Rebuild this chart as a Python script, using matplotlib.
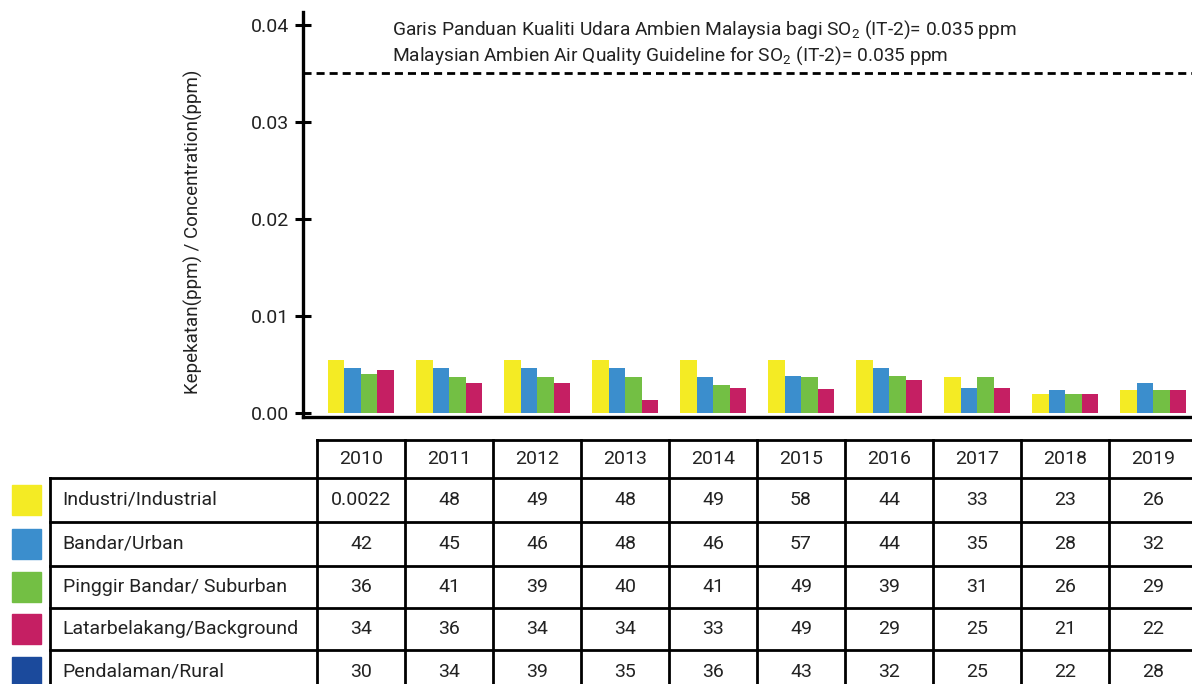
import matplotlib
matplotlib.use("Agg")
import matplotlib.pyplot as plt
from matplotlib.patches import Rectangle
import numpy as np

plt.rcParams['font.family'] = ['Roboto', 'DejaVu Sans']
plt.rcParams['mathtext.default'] = 'regular'

years = ['2010', '2011', '2012', '2013', '2014', '2015', '2016', '2017', '2018', '2019']

# bar heights (ppm)
industrial = [0.0055, 0.0055, 0.0055, 0.0055, 0.0055, 0.0055, 0.0055, 0.0037, 0.0020, 0.0024]
urban = [0.0046, 0.0046, 0.0046, 0.0046, 0.0037, 0.0038, 0.0046, 0.0026, 0.0024, 0.0031]
suburban = [0.0040, 0.0037, 0.0037, 0.0037, 0.0029, 0.0037, 0.0038, 0.0037, 0.0020, 0.0024]
background = [0.0044, 0.0031, 0.0031, 0.0013, 0.0026, 0.0025, 0.0034, 0.0026, 0.0020, 0.0024]

# table values as printed
industrial_tab = ['0.0022', '48', '49', '48', '49', '58', '44', '33', '23', '26']
urban_tab = ['42', '45', '46', '48', '46', '57', '44', '35', '28', '32']
suburban_tab = ['36', '41', '39', '40', '41', '49', '39', '31', '26', '29']
background_tab = ['34', '36', '34', '34', '33', '49', '29', '25', '21', '22']
rural_tab = ['30', '34', '39', '35', '36', '43', '32', '25', '22', '28']

row_labels = ['Industri/Industrial', 'Bandar/Urban', 'Pinggir Bandar/ Suburban',
              'Latarbelakang/Background', 'Pendalaman/Rural']
colors = ['#F4EB24', '#3B8ECD', '#73BF44', '#C51F63', '#1B4A9C']

guideline = 0.035

fig = plt.figure(figsize=(11.92, 6.84), dpi=100)
ax = fig.add_axes([0.2542, 0.3904, 0.7458, 0.5921])

x = np.arange(len(years))
w = 0.1875
series = [industrial, urban, suburban, background]
for k, vals in enumerate(series):
    ax.bar(x + (k - 1.5) * w, vals, width=w, color=colors[k], linewidth=0)

ax.axhline(guideline, color='black', lw=2, ls=(0, (2.9, 1.8)))
ax.text(0.35, 0.0395, 'Garis Panduan Kualiti Udara Ambien Malaysia bagi SO$_2$ (IT-2)= 0.035 ppm',
        fontsize=13.8, va='center', ha='left', color='#222222')
ax.text(0.35, 0.0368, 'Malaysian Ambien Air Quality Guideline for SO$_2$ (IT-2)= 0.035 ppm',
        fontsize=13.8, va='center', ha='left', color='#222222')

ax.set_xlim(-0.659, 9.443)
ax.set_ylim(-0.0004, 0.0413)
ax.set_yticks([0, 0.01, 0.02, 0.03, 0.04])
ax.set_yticklabels(['0.00', '0.01', '0.02', '0.03', '0.04'])
ax.set_xticks([])
ax.tick_params(axis='y', direction='inout', length=11.5, width=2.2, labelsize=14, pad=4,
               labelcolor='#222222')
for s in ['top', 'right']:
    ax.spines[s].set_visible(False)
for s in ['left', 'bottom']:
    ax.spines[s].set_linewidth(2.4)
ax.set_ylabel('Kepekatan(ppm) / Concentration(ppm)', fontsize=13.5, color='#222222')
ax.yaxis.set_label_coords(-0.113, 0.457)

# data table below, sharing the bar x positions
tab = fig.add_axes([0.2542, 0.0, 0.7458, 244 / 684])
tab.set_xlim(ax.get_xlim())
tab.set_ylim(684, 440)
tab.axis('off')

row_edges = [440, 478, 522, 566, 608, 650, 694]
label_left = -3.53
col_left = -0.5
right = 9.49
lw = 2.0

# header row
tab.plot([col_left, right], [row_edges[0], row_edges[0]], color='black', lw=lw, clip_on=False)
for i, yr in enumerate(years):
    tab.text(i, (row_edges[0] + row_edges[1]) / 2, yr, ha='center', va='center',
             fontsize=14, color='#222222')
# horizontal lines of body
for e in row_edges[1:]:
    tab.plot([label_left, right], [e, e], color='black', lw=lw, clip_on=False)
# vertical lines
tab.plot([label_left, label_left], [row_edges[1], row_edges[-1]], color='black', lw=lw, clip_on=False)
for i in range(len(years) + 1):
    tab.plot([i - 0.5, i - 0.5], [row_edges[0], row_edges[-1]], color='black', lw=lw, clip_on=False)

table_rows = [industrial_tab, urban_tab, suburban_tab, background_tab, rural_tab]
for r, (lab, vals) in enumerate(zip(row_labels, table_rows)):
    yc = (row_edges[r + 1] + row_edges[r + 2]) / 2
    tab.text(-3.39, yc, lab, ha='left', va='center', fontsize=14, color='#222222', clip_on=False)
    for i, v in enumerate(vals):
        tab.text(i, yc, v, ha='center', va='center', fontsize=14, color='#222222')
    tab.add_patch(Rectangle((-3.97, yc - 15), 0.33, 30, color=colors[r], clip_on=False))

fig.savefig('out.png', dpi=100)
